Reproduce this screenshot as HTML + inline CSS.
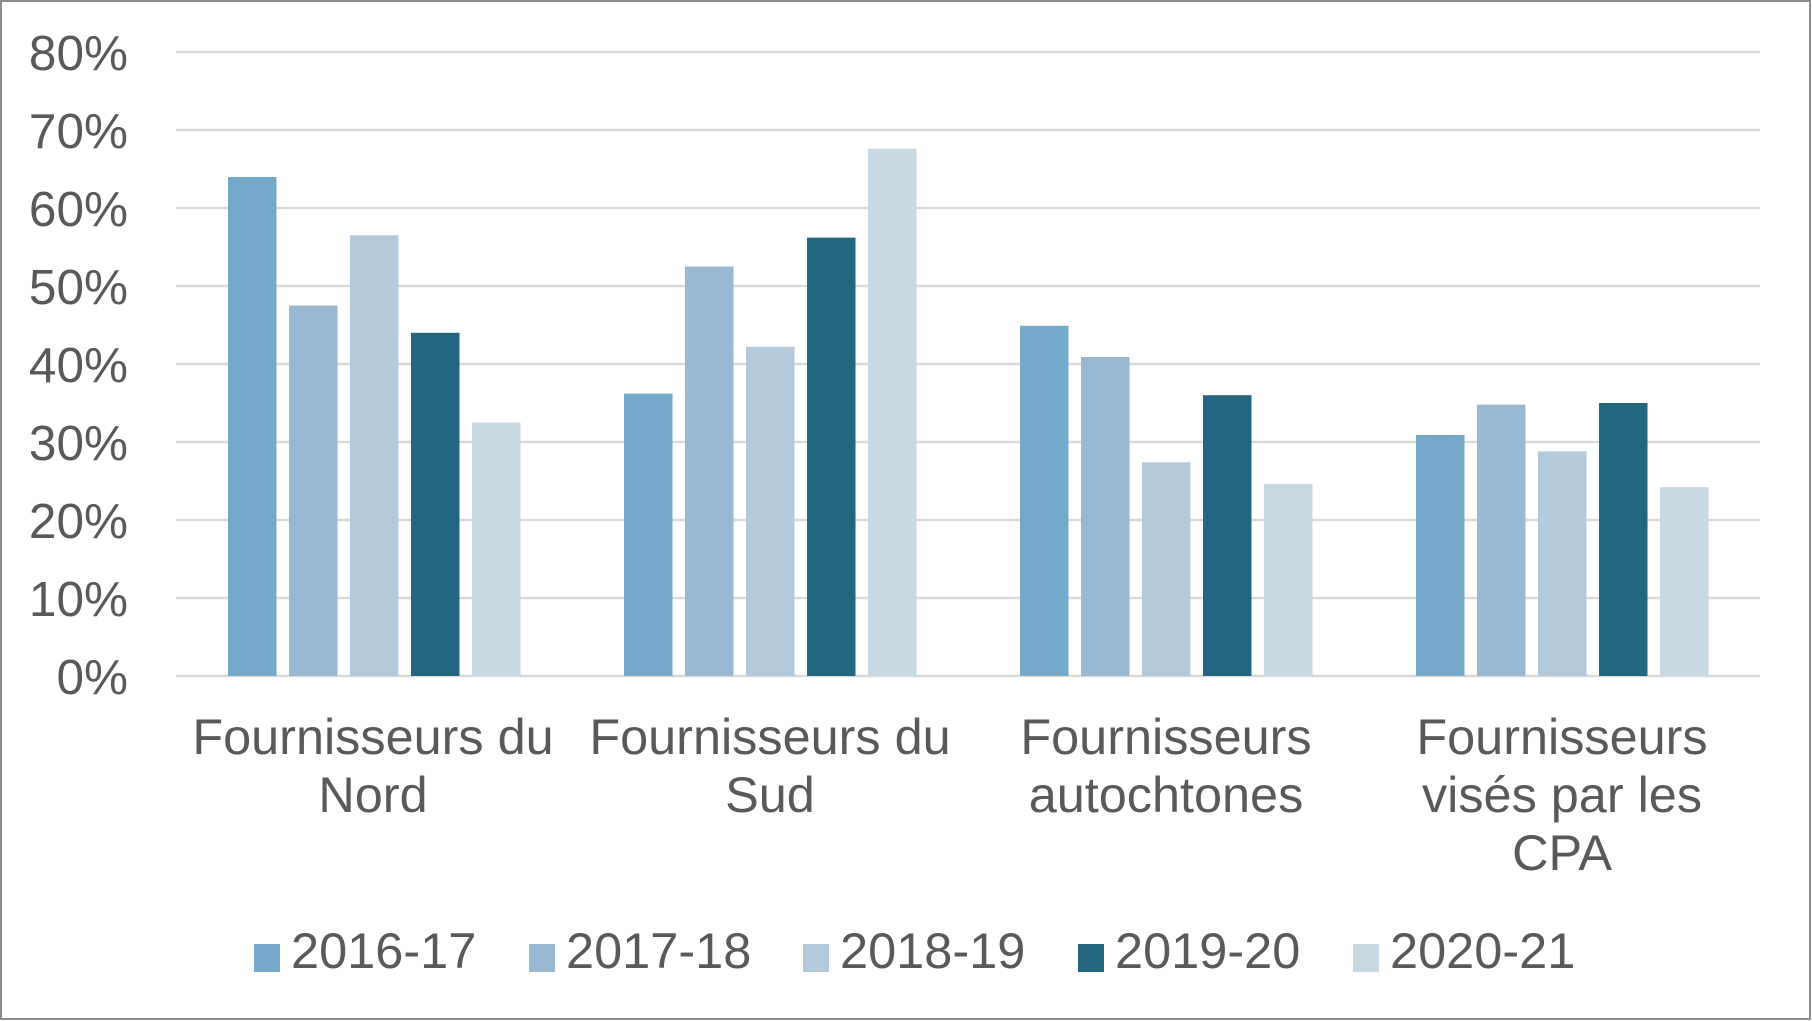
<!DOCTYPE html>
<html><head><meta charset="utf-8"><style>
html,body{margin:0;padding:0;background:#fff}
svg{display:block}
text{font-family:"Liberation Sans",Arial,sans-serif;fill:#595959}
</style></head><body>
<svg width="1812" height="1021" viewBox="0 0 1812 1021">
<rect x="1" y="1" width="1809" height="1018" fill="#fff" stroke="#8c8c8c" stroke-width="2"/>
<g stroke="#d9d9d9" stroke-width="2.5">
<line x1="176" x2="1760" y1="52" y2="52"/>
<line x1="176" x2="1760" y1="130" y2="130"/>
<line x1="176" x2="1760" y1="208" y2="208"/>
<line x1="176" x2="1760" y1="286" y2="286"/>
<line x1="176" x2="1760" y1="364" y2="364"/>
<line x1="176" x2="1760" y1="442" y2="442"/>
<line x1="176" x2="1760" y1="520" y2="520"/>
<line x1="176" x2="1760" y1="598" y2="598"/>
<line x1="176" x2="1760" y1="676" y2="676"/>
</g>
<g font-size="49.5" text-anchor="end">
<text x="128" y="70">80%</text>
<text x="128" y="148">70%</text>
<text x="128" y="226">60%</text>
<text x="128" y="304">50%</text>
<text x="128" y="382">40%</text>
<text x="128" y="460">30%</text>
<text x="128" y="538">20%</text>
<text x="128" y="616">10%</text>
<text x="128" y="694">0%</text>
</g>
<g font-size="50.4" text-anchor="middle">
<text x="373" y="754">Fournisseurs du</text>
<text x="373" y="812">Nord</text>
<text x="770" y="754">Fournisseurs du</text>
<text x="770" y="812">Sud</text>
<text x="1166" y="754">Fournisseurs</text>
<text x="1166" y="812">autochtones</text>
<text x="1562" y="754">Fournisseurs</text>
<text x="1562" y="812">visés par les</text>
<text x="1562" y="870">CPA</text>
</g>
<g font-size="50.5">
<rect x="254" y="944" width="26" height="28" fill="#74a9c9"/><text x="291" y="968">2016-17</text>
<rect x="529" y="944" width="26" height="28" fill="#98b9d1"/><text x="566" y="968">2017-18</text>
<rect x="803" y="944" width="26" height="28" fill="#b3c9dc"/><text x="840" y="968">2018-19</text>
<rect x="1078" y="944" width="26" height="28" fill="#226680"/><text x="1115" y="968">2019-20</text>
<rect x="1353" y="944" width="26" height="28" fill="#c8d9e3"/><text x="1390" y="968">2020-21</text>
</g>
<g>
<rect x="228" y="177" width="48.5" height="499" fill="#74a9c9"/>
<rect x="289" y="305.5" width="48.5" height="370.5" fill="#98b9d1"/>
<rect x="350" y="235.3" width="48.5" height="440.7" fill="#b3c9dc"/>
<rect x="411" y="332.8" width="48.5" height="343.2" fill="#226680"/>
<rect x="472" y="422.5" width="48.5" height="253.5" fill="#c8d9e3"/>

<rect x="624" y="393.6" width="48.5" height="282.4" fill="#74a9c9"/>
<rect x="685" y="266.5" width="48.5" height="409.5" fill="#98b9d1"/>
<rect x="746" y="346.8" width="48.5" height="329.2" fill="#b3c9dc"/>
<rect x="807" y="237.6" width="48.5" height="438.4" fill="#226680"/>
<rect x="868" y="148.7" width="48.5" height="527.3" fill="#c8d9e3"/>

<rect x="1020" y="325.8" width="48.5" height="350.2" fill="#74a9c9"/>
<rect x="1081" y="357" width="48.5" height="319" fill="#98b9d1"/>
<rect x="1142" y="462.3" width="48.5" height="213.7" fill="#b3c9dc"/>
<rect x="1203" y="395.2" width="48.5" height="280.8" fill="#226680"/>
<rect x="1264" y="484.1" width="48.5" height="191.9" fill="#c8d9e3"/>

<rect x="1416" y="435" width="48.5" height="241" fill="#74a9c9"/>
<rect x="1477" y="404.6" width="48.5" height="271.4" fill="#98b9d1"/>
<rect x="1538" y="451.4" width="48.5" height="224.6" fill="#b3c9dc"/>
<rect x="1599" y="403" width="48.5" height="273" fill="#226680"/>
<rect x="1660" y="487.2" width="48.5" height="188.8" fill="#c8d9e3"/>
</g>
</svg>
</body></html>
